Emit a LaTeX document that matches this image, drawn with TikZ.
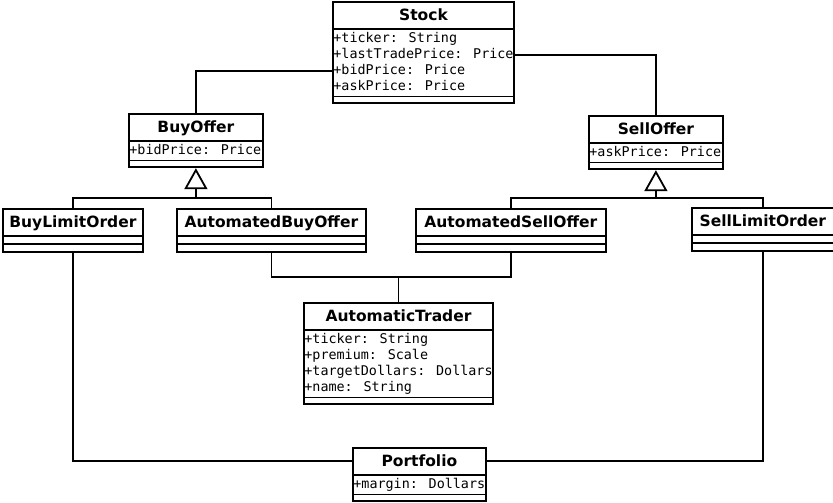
\documentclass[tikz,border=0pt]{standalone}
\usepackage{fontspec}
\setmainfont{DejaVu Sans}
\newfontfamily\monofont{DejaVu Sans Mono}
\usepackage{tikz}
\usetikzlibrary{shapes.multipart,arrows.meta}
\def\classname#1{\rule[-6.5pt]{0pt}{23pt}#1}
\def\field#1{\hbox{\monofont\mdseries\fontsize{13.4}{16}\selectfont\rule[-4pt]{0pt}{16pt}#1}}
\def\fields#1{\vbox{\offinterlineskip#1}}

\begin{document}
\begin{tikzpicture}[x=1pt,y=-1pt,
	umlclass/.style={draw, line width=1.8pt, rectangle split, rectangle split parts=3,
		rectangle split part align={center,left,left}, inner xsep=0.5pt, inner ysep=1pt,
		anchor=north west, font=\fontsize{15.5}{18}\selectfont\bfseries},
	link/.style={line width=1.8pt},
	isa/.style={line width=1.8pt, -{Triangle[open, length=21pt, width=23pt]}}]
				\useasboundingbox (0,0) rectangle (833,503);
				
				\node[umlclass, minimum width=179pt] (stock) at (332,1) {\classname{Stock}
					\nodepart{two}\fields{\field{+ticker: String}\field{+lastTradePrice: Price}\field{+bidPrice: Price}\field{+askPrice: Price}}
					\nodepart{three}\rule{0pt}{3pt}};
				
				\node[umlclass, minimum width=134pt] (buyoffer) at (128,113) {\classname{BuyOffer}
					\nodepart{two}\fields{\field{+bidPrice: Price}}
					\nodepart{three}\rule{0pt}{3pt}};
				
				\node[umlclass, minimum width=134pt] (selloffer) at (588,115) {\classname{SellOffer}
					\nodepart{two}\fields{\field{+askPrice: Price}}
					\nodepart{three}\rule{0pt}{3pt}};
				
				\node[umlclass, minimum width=140pt] (buylimit) at (2,208) {\classname{BuyLimitOrder}
					\nodepart{two}\rule{0pt}{4.5pt}
					\nodepart{three}\rule{0pt}{4.5pt}};
				
				\node[umlclass, minimum width=189pt] (autobuy) at (176,208) {\classname{AutomatedBuyOffer}
					\nodepart{two}\rule{0pt}{4.5pt}
					\nodepart{three}\rule{0pt}{4.5pt}};
				
				\node[umlclass, minimum width=190pt] (autosell) at (415,208) {\classname{AutomatedSellOffer}
					\nodepart{two}\rule{0pt}{4.5pt}
					\nodepart{three}\rule{0pt}{4.5pt}};
				
				\node[umlclass, minimum width=142pt] (selllimit) at (691,207) {\classname{SellLimitOrder}
					\nodepart{two}\rule{0pt}{4.5pt}
					\nodepart{three}\rule{0pt}{4.5pt}};
				
				\node[umlclass, minimum width=187pt] (trader) at (303,302) {\classname{AutomaticTrader}
					\nodepart{two}\fields{\field{+ticker: String}\field{+premium: Scale}\field{+targetDollars: Dollars}\field{+name: String}}
					\nodepart{three}\rule{0pt}{3pt}};
				
				\node[umlclass, minimum width=133pt] (portfolio) at (352,447) {\classname{Portfolio}
					\nodepart{two}\fields{\field{+margin: Dollars}}
					\nodepart{three}\rule{0pt}{3pt}};
				
				% offers hang off the stock
				\draw[link] (buyoffer.north) |- (stock.west |- 0,71);
				\draw[link] (selloffer.north) |- (stock.east |- 0,55);
				
				% subclasses
				\draw[link] (buylimit.north) |- (autobuy.north |- 0,198) -- (autobuy.north);
				\draw[isa] (buyoffer.south |- 0,198) -- (buyoffer.south);
				\draw[link] (autosell.north) |- (selllimit.north |- 0,198) -- (selllimit.north);
				\draw[isa] (selloffer.south |- 0,198) -- (selloffer.south);
				
				\draw[link] (autobuy.south) |- (autosell.south |- 0,277) -- (autosell.south);
				\draw[link] (trader.north |- 0,277) -- (trader.north);
				
				\draw[link] (buylimit.south) |- (portfolio.west |- 0,461);
				\draw[link] (selllimit.south) |- (portfolio.east |- 0,461);
\end{tikzpicture}
\end{document}
